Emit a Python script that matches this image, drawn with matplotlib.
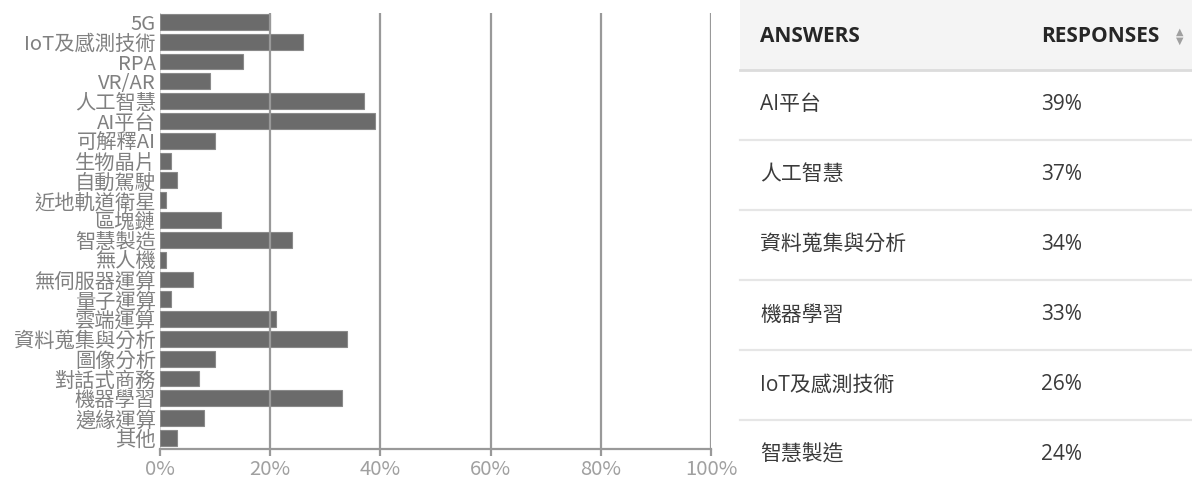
import matplotlib
matplotlib.use("Agg")
import matplotlib.pyplot as plt
from matplotlib.lines import Line2D
from matplotlib.patches import Rectangle

categories = ["5G", "IoT及感測技術", "RPA", "VR/AR", "人工智慧", "AI平台", "可解釋AI",
              "生物晶片", "自動駕駛", "近地軌道衛星", "區塊鏈", "智慧製造", "無人機",
              "無伺服器運算", "量子運算", "雲端運算", "資料蒐集與分析", "圖像分析",
              "對話式商務", "機器學習", "邊緣運算", "其他"]
values = [20, 26, 15, 9, 37, 39, 10, 2, 3, 1, 11, 24, 1, 6, 2, 21, 34, 10, 7, 33, 8, 3]
x_ticks = [0, 20, 40, 60, 80, 100]
x_tick_labels = ["0%", "20%", "40%", "60%", "80%", "100%"]

table_header = ["ANSWERS", "RESPONSES"]
table_answers = ["AI平台", "人工智慧", "資料蒐集與分析", "機器學習", "IoT及感測技術", "智慧製造"]
table_responses = ["39%", "37%", "34%", "33%", "26%", "24%"]

W, H = 1192, 482
fig = plt.figure(figsize=(W / 100, H / 100), dpi=100)
fig.patch.set_facecolor("white")

label_font = ["Noto Sans CJK TC", "DejaVu Sans"]
table_font = ["Open Sans", "Noto Sans CJK TC", "DejaVu Sans"]

ax = fig.add_axes([160 / W, 1 - 449 / H, 551 / W, 436 / H])
ypos = list(range(len(categories)))
ax.barh(ypos, values, height=0.8, color="#6b6b6b", edgecolor="#8a8a8a", linewidth=0.8, zorder=2)
ax.set_xlim(0, 100)
ax.set_ylim(len(categories) - 1 + 0.56, -0.45)
ax.set_yticks(ypos)
ax.set_yticklabels(categories, fontfamily=label_font, fontweight="light", fontsize=14.6, color="#808080")
ax.set_xticks(x_ticks)
ax.set_xticklabels(x_tick_labels, fontfamily=label_font, fontweight="light", fontsize=14.6, color="#a0a0a0")
for t in x_ticks[1:]:
    ax.axvline(t, color="#999999", linewidth=1.6, zorder=3)
ax.axvline(0, color="#cccccc", linewidth=1.2, zorder=1)
for s in ["top", "right", "left"]:
    ax.spines[s].set_visible(False)
ax.spines["bottom"].set_color("#999999")
ax.spines["bottom"].set_linewidth(1.6)
ax.tick_params(axis="y", length=0, pad=3)
ax.tick_params(axis="x", length=5, width=1.6, color="#999999", pad=2)

# Table on right
def fx(px):
    return px / W

def fy(py):
    return 1 - py / H

fig.patches.append(Rectangle((fx(740), fy(70)), fx(1192) - fx(740), fy(0) - fy(70),
                             transform=fig.transFigure, facecolor="#f4f4f4", edgecolor="none", zorder=0))
fig.text(fx(760), fy(36), table_header[0], fontfamily=table_font, fontweight="bold", fontsize=15,
         color="#262626", va="center", ha="left")
fig.text(fx(1041), fy(36), table_header[1], fontfamily=table_font, fontweight="bold", fontsize=15,
         color="#262626", va="center", ha="left")
fig.text(fx(1180), fy(32), "▲", fontfamily=["DejaVu Sans"], fontsize=7, color="#a0a0a0", ha="center", va="center")
fig.text(fx(1180), fy(41), "▼", fontfamily=["DejaVu Sans"], fontsize=7, color="#a0a0a0", ha="center", va="center")

row_h = 70
for i, (a, r) in enumerate(zip(table_answers, table_responses)):
    top = 70 + i * row_h
    lw = 2.0 if i == 0 else 1.6
    col = "#dcdcdc" if i == 0 else "#e6e6e6"
    fig.lines.append(Line2D([fx(740), fx(1192)], [fy(top), fy(top)], transform=fig.transFigure,
                            color=col, linewidth=lw))
    cy = top + 35
    fig.text(fx(760), fy(cy), a, fontfamily=table_font, fontsize=15, color="#3a3a3a", va="center", ha="left")
    fig.text(fx(1041), fy(cy), r, fontfamily=table_font, fontsize=15, color="#3a3a3a", va="center", ha="left")

fig.savefig("out.png", dpi=100, facecolor="white")
